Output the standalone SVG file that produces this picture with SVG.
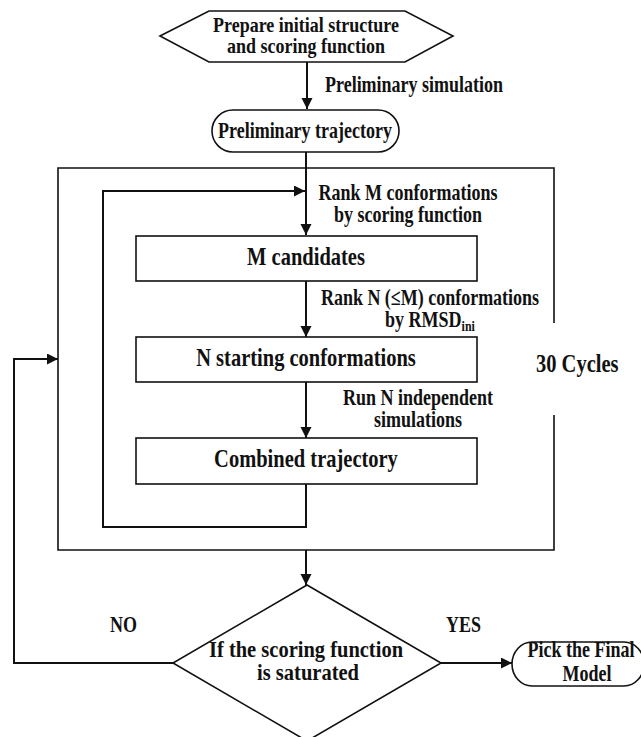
<svg xmlns="http://www.w3.org/2000/svg" width="641" height="737" viewBox="0 0 641 737">
<style>
.shape{fill:#fff;stroke:#111;stroke-width:1.6}
.line{fill:none;stroke:#111;stroke-width:2}
.frame{fill:none;stroke:#111;stroke-width:1.6}
text{font-family:"Liberation Serif","Times New Roman",serif;font-weight:bold;fill:#111;font-size:18px}
.big{font-size:20.5px}
.mid{text-anchor:middle}
</style>
<defs>
<marker id="arr" markerUnits="userSpaceOnUse" markerWidth="12" markerHeight="12" refX="11" refY="5.5" orient="auto">
<path d="M0,0 L11,5.5 L0,11 Z" fill="#111"/>
</marker>
</defs>
<g id="connectors">
<path class="line" d="M307,62 V109" marker-end="url(#arr)"/>
<path class="line" d="M306,152 V235" marker-end="url(#arr)"/>
<path class="frame" d="M554,323 V168 H58 V550 H554 V415"/>
<path class="line" d="M306,484 V527 H103 V191 H305" marker-end="url(#arr)"/>
<path class="line" d="M306,281 V337" marker-end="url(#arr)"/>
<path class="line" d="M306,382 V438" marker-end="url(#arr)"/>
<path class="line" d="M306,550 V585" marker-end="url(#arr)"/>
<path class="line" d="M173,663 H14 V359 H58" marker-end="url(#arr)"/>
<path class="line" d="M441,663 H512" marker-end="url(#arr)"/>
<text transform="translate(325,92) scale(1,1.25)">Preliminary simulation</text>
<text class="mid" transform="translate(408,200) scale(1,1.25)"><tspan x="0" y="0">Rank M conformations</tspan><tspan x="0" dy="17.6">by scoring function</tspan></text>
<text class="mid" transform="translate(430,305) scale(1,1.25)"><tspan x="0" y="0">Rank N (≤M) conformations</tspan><tspan x="0" dy="17.6">by RMSD</tspan><tspan font-size="12" dy="3">ini</tspan></text>
<text class="mid" transform="translate(418,405) scale(1,1.25)"><tspan x="0" y="0">Run N independent</tspan><tspan x="0" dy="17.6">simulations</tspan></text>
<text class="big" transform="translate(536,372) scale(1,1.25)">30 Cycles</text>
<text transform="translate(110,632) scale(1,1.25)">NO</text>
<text transform="translate(446,632) scale(1,1.25)">YES</text>
</g>
<g id="start">
<polygon class="shape" points="160,36 209,11 405,11 453,36 405,62 209,62"/>
<text class="mid" transform="translate(306,31.5) scale(1,1.18)"><tspan x="0" y="0">Prepare initial structure</tspan><tspan x="0" dy="18.6">and scoring function</tspan></text>
</g>
<g id="preliminary-trajectory">
<rect class="shape" x="212" y="110" width="187" height="42" rx="21" ry="21"/>
<text class="mid" transform="translate(305,138) scale(1,1.25)">Preliminary trajectory</text>
</g>
<g id="m-candidates">
<rect class="shape" x="136" y="236" width="341" height="45"/>
<text class="mid big" transform="translate(306,265) scale(1,1.25)">M candidates</text>
</g>
<g id="n-starting">
<rect class="shape" x="136" y="337" width="341" height="45"/>
<text class="mid big" transform="translate(306,366) scale(1,1.25)">N starting conformations</text>
</g>
<g id="combined">
<rect class="shape" x="136" y="438" width="341" height="46"/>
<text class="mid big" transform="translate(306,467) scale(1,1.25)">Combined trajectory</text>
</g>
<g id="decision">
<polygon class="shape" points="307,585 441,663 307,741 173,663"/>
<text class="mid big" transform="translate(306,656.5) scale(1,1.13)"><tspan x="0" y="0">If the scoring function</tspan><tspan x="2" dy="21.2">is saturated</tspan></text>
</g>
<g id="final-model">
<rect class="shape" x="512" y="642" width="132" height="44" rx="20" ry="22"/>
<text class="mid" transform="translate(581,657) scale(1,1.25)"><tspan x="0" y="0">Pick the Final</tspan><tspan x="6" dy="19.2">Model</tspan></text>
</g>
</svg>
